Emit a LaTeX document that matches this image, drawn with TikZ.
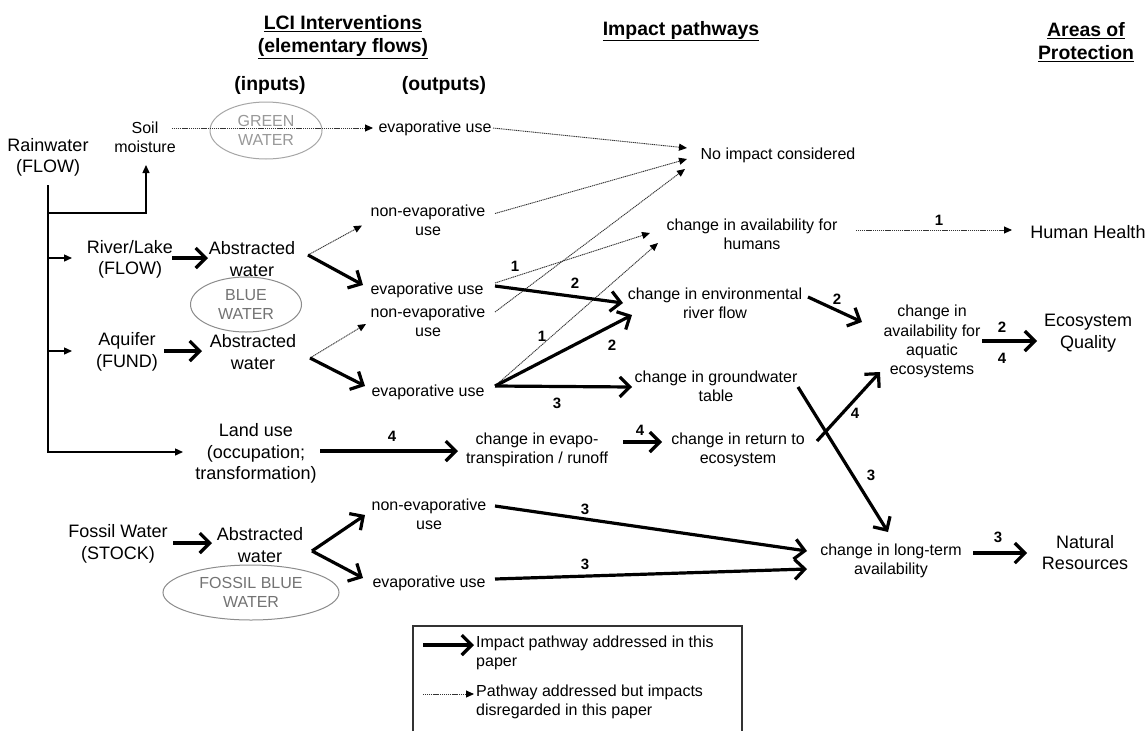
\documentclass[tikz,border=0pt]{standalone}
\usepackage{fontspec}
\setmainfont{Liberation Sans}
\usetikzlibrary{arrows.meta,shapes.geometric,calc}
\begin{document}
\begin{tikzpicture}[x=1pt,y=-1pt,
 big/.style={font=\fontsize{18}{21.6}\selectfont, align=center, inner sep=0pt},
 txt/.style={font=\fontsize{16}{19.2}\selectfont, align=center, inner sep=0pt},
 hdr/.style={font=\bfseries\fontsize{19.4}{23}\selectfont, align=center, inner sep=0pt},
 num/.style={font=\bfseries\fontsize{15}{18}\selectfont, inner sep=0pt},
 thickarr/.style={line width=3.2pt, -{Straight Barb[length=10pt,width=20pt]}},
 dotarr/.style={line width=0.9pt, black!80, dash pattern=on 1.2pt off 0.7pt, -{Triangle[length=8pt,width=7pt,color=black]}},
 treearr/.style={line width=1.4pt, -{Triangle[length=8pt,width=7pt]}},
 water/.style={ellipse, draw=black!45, line width=1pt, text=black!55, font=\fontsize{16}{19.2}\selectfont, align=center, inner sep=0pt},
]
\useasboundingbox[fill=white] (0,0) rectangle (1147,731);

% headers
\node[hdr] (hLCI) at (343,37) {\underline{LCI Interventions}\\\underline{(elementary flows)}};
\node[hdr] (hin) at (270,85) {(inputs)};
\node[hdr] (hout) at (444,85) {(outputs)};
\node[hdr] (hIP) at (681,31) {\underline{Impact pathways}};
\node[hdr] (hAoP) at (1086,42) {\underline{Areas of}\\\underline{Protection}};

% water ellipses
\node[water, minimum width=112pt, minimum height=57pt, text=black!40, draw=black!35] (green) at (266,130.5) {GREEN\\WATER};
\node[water, minimum width=111pt, minimum height=55pt] (blue) at (246,304.5) {BLUE\\WATER};
\node[water, minimum width=176pt, minimum height=55pt] (fossilw) at (251,592.5) {FOSSIL BLUE\\WATER};

% sources
\node[big] (rain) at (48,157.5) {Rainwater\\(FLOW)};
\node[txt] (soil) at (145,137.5) {Soil\\moisture};
\node[big] (river) at (130,259.5) {River/Lake\\(FLOW)};
\node[big] (aquifer) at (127,352) {Aquifer\\(FUND)};
\node[big] (absA) at (252,259) {Abstracted\\water};
\node[big] (absB) at (253,352) {Abstracted\\water};
\node[big] (landuse) at (256,453.5) {Land use\\(occupation;\\transformation)};
\node[big] (fossil) at (118,544) {Fossil Water\\(STOCK)};
\node[big] (absC) at (260,545) {Abstracted\\water};

% outputs
\node[txt] (evapT) at (435,128) {evaporative use};
\node[txt] (nonevapA) at (428,220.5) {non-evaporative\\use};
\node[txt] (evapA) at (427,290) {evaporative use};
\node[txt] (nonevapB) at (428,321.5) {non-evaporative\\use};
\node[txt] (evapB) at (428,392) {evaporative use};
\node[txt] (nonevapC) at (429,514.5) {non-evaporative\\use};
\node[txt] (evapC) at (429,583) {evaporative use};

% impact pathways
\node[txt] (noimp) at (778,155) {No impact considered};
\node[txt] (availH) at (752,234.5) {change in availability for\\humans};
\node[txt] (envflow) at (715,303.5) {change in environmental\\river flow};
\node[txt] (groundw) at (716,386.5) {change in groundwater\\table};
\node[txt] (evapo) at (537,449.5) {change in evapo-\\transpiration / runoff};
\node[txt] (ret) at (738,449.5) {change in return to\\ecosystem};
\node[txt] (aquatic) at (932,341.5) {change in\\availability for\\aquatic\\ecosystems};
\node[txt] (longterm) at (891,560.5) {change in long-term\\availability};

% areas of protection
\node[big] (HH) at (1088,232) {Human Health};
\node[big] (EQ) at (1088,333) {Ecosystem\\Quality};
\node[big] (NR) at (1085,552.5) {Natural\\Resources};

% rainwater tree
\draw[treearr] ($(rain)+(0,27.5)$) |- ($(landuse)+(-73,-1.5)$);
\draw[treearr] ($(rain)+(0,55.5)$) -| ($(soil)+(1,27.5)$);
\draw[treearr] ($(rain)+(0,100.5)$) -- ($(river)+(-58,-1.5)$);
\draw[treearr] ($(rain)+(0,193.5)$) -- ($(aquifer)+(-55,-1)$);

% dotted pathways
\draw[dotarr] ($(soil)+(27,-9.5)$) -- ($(evapT)+(-62,0)$);
\draw[dotarr] ($(evapT)+(58,0)$) -- ($(noimp)+(-91,-7)$);
\draw[dotarr] ($(nonevapA)+(67,-7)$) -- ($(noimp)+(-91,4)$);
\draw[dotarr] ($(nonevapB)+(67,-9.5)$) -- ($(noimp)+(-93,14)$);
\draw[dotarr] ($(evapA)+(68,-7)$) -- ($(availH)+(-102,-1.5)$);
\draw[dotarr] ($(evapB)+(67,-6)$) -- ($(availH)+(-94,8.5)$);
\draw[dotarr] ($(absA)+(56,-4)$) -- ($(nonevapA)+(-66,5)$);
\draw[dotarr] ($(absB)+(57,6)$) -- ($(nonevapB)+(-62,2.5)$);
\draw[dotarr] ($(availH)+(104,-4.5)$) -- ($(HH)+(-76,-2)$);

% thick pathways
\draw[thickarr] ($(river)+(42,-1.5)$) -- ($(absA)+(-44,-1)$);
\draw[thickarr] ($(aquifer)+(37,-1)$) -- ($(absB)+(-51,-1)$);
\draw[thickarr] ($(absA)+(56,-4)$) -- ($(evapA)+(-64,-5)$);
\draw[thickarr] ($(absB)+(57,6)$) -- ($(evapB)+(-63,-6)$);
\draw[thickarr] ($(evapA)+(68,-4)$) -- ($(envflow)+(-92,-0.5)$);
\draw[thickarr] ($(evapB)+(67,-6)$) -- ($(envflow)+(-83,11.5)$);
\draw[thickarr] ($(evapB)+(67,-6)$) -- ($(groundw)+(-84,0.5)$);
\draw[thickarr] ($(landuse)+(64,-2.5)$) -- ($(evapo)+(-79,1.5)$);
\draw[thickarr] ($(evapo)+(86,-7.5)$) -- ($(ret)+(-76,-7.5)$);
\draw[thickarr] ($(envflow)+(93,-6.5)$) -- ($(aquatic)+(-70,-19.5)$);
\draw[thickarr] ($(ret)+(79,-8.5)$) -- ($(aquatic)+(-52,30.5)$);
\draw[thickarr] ($(groundw)+(82,0.5)$) -- ($(longterm)+(-3,-28.5)$);
\draw[thickarr] ($(aquatic)+(50,-0.5)$) -- ($(EQ)+(-51,8)$);
\draw[thickarr] ($(fossil)+(55,-1)$) -- ($(absC)+(-48,-2)$);
\draw[thickarr] ($(absC)+(52,6)$) -- ($(nonevapC)+(-64,0.5)$);
\draw[thickarr] ($(absC)+(52,6)$) -- ($(evapC)+(-66,-5)$);
\draw[thickarr] ($(nonevapC)+(66,-8.5)$) -- ($(longterm)+(-84,-9.5)$);
\draw[thickarr] ($(evapC)+(66,-4)$) -- ($(longterm)+(-84,8.5)$);
\draw[thickarr] ($(longterm)+(82,-7.5)$) -- ($(NR)+(-58,0.5)$);

% pathway numbers
\node[num] (l1a) at (515,266) {1};
\node[num] (l2a) at (575,283) {2};
\node[num] (l1b) at (542,336) {1};
\node[num] (l2b) at (612,345) {2};
\node[num] (l3a) at (557,403) {3};
\node[num] (l4a) at (392,436) {4};
\node[num] (l4b) at (640,430) {4};
\node[num] (l2c) at (837,299) {2};
\node[num] (l4c) at (855,413) {4};
\node[num] (l3b) at (871,475) {3};
\node[num] (l2d) at (1002,327) {2};
\node[num] (l4d) at (1002,358) {4};
\node[num] (l1c) at (939,220) {1};
\node[num] (l3c) at (585,509) {3};
\node[num] (l3d) at (585,564) {3};
\node[num] (l3e) at (998,537) {3};

% legend
\draw[line width=1.2pt, black!80] (413,731) -- (413,626) -- (742,626) -- (742,731);
\coordinate (lgAs) at (423,645);
\coordinate (lgAe) at (474,645);
\coordinate (lgBs) at (423,694);
\coordinate (lgBe) at (474,694);
\draw[thickarr] (lgAs) -- (lgAe);
\draw[dotarr] (lgBs) -- (lgBe);
\node[txt, align=left, anchor=west] (lgA) at (476,653) {Impact pathway addressed in this\\paper};
\node[txt, align=left, anchor=west] (lgB) at (476,702) {Pathway addressed but impacts\\disregarded in this paper};
\end{tikzpicture}
\end{document}
